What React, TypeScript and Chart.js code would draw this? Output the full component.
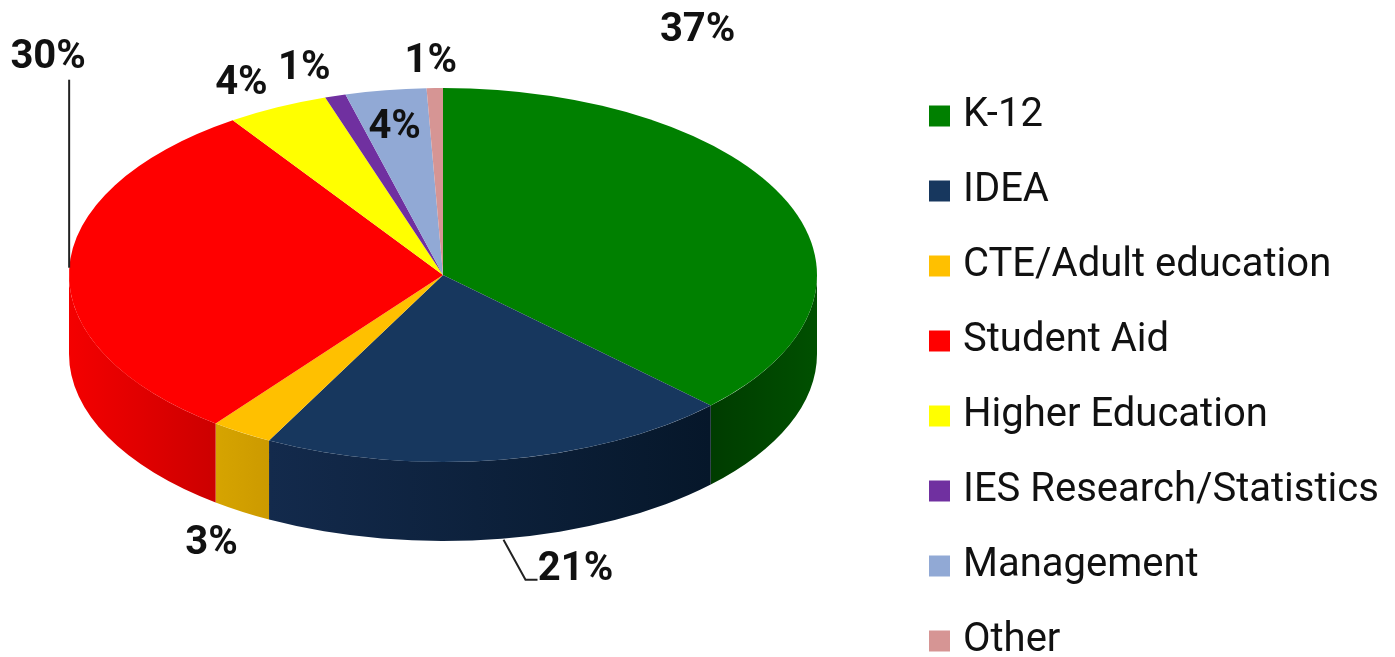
import React, { useEffect, useRef } from "react";
import { Chart, registerables } from "chart.js";

Chart.register(...registerables);

const categories = ["K-12", "IDEA", "CTE/Adult education", "Student Aid", "Higher Education", "IES Research/Statistics", "Management", "Other"];
// slice shares
const sliceShares = [37.3, 20.4, 2.7, 30.1, 4.4, 0.9, 3.5, 0.7];
// percentages as printed on the chart
const printedLabels = ["37%", "21%", "3%", "30%", "4%", "1%", "4%", "1%"];
const topColors = ["#008000", "#17375e", "#ffc000", "#ff0000", "#ffff00", "#7030a0", "#91a9d5", "#d69594"];
const wallLeft = ["#003c00", "#132a4c", "#d6a400", "#f40000", "#cccc00", "#582680", "#7288aa", "#aa7776"];
const wallRight = ["#005000", "#06172a", "#cc9a00", "#cc0000", "#cccc00", "#582680", "#7288aa", "#aa7776"];
// label placement relative to the rim midpoint of each slice
const labelDx = [-90, 74, -30, -21, -36, -31, 9, -4];
const labelDy = [-171, 110, 111, -212, -23, -27, 38, -26];
// leader lines, as offsets from the rim midpoint of the slice
const leaders: Record<number, number[][]> = {
  1: [[2, 80], [24, 120], [36, 120]],
  3: [[0, -190], [0, -2]],
};

const CX = 443, CY = 275, RX = 374, RY = 187, DEPTH = 79;
const LEGEND_LEFT = 901, LEGEND_TOP = 61;

const pie3d = {
  id: "pie3d",
  afterLayout(chart: any) {
    chart.legend.left = LEGEND_LEFT;
    chart.legend.top = LEGEND_TOP;
    chart.legend.bottom = LEGEND_TOP + chart.height;
  },
  beforeDatasetsDraw(chart: any) {
    const ctx = chart.ctx;
    const arcs = chart.getDatasetMeta(0).data;
    arcs.forEach((arc: any, i: number) => {
      const a = Math.max(arc.startAngle, 0);
      const b = Math.min(arc.endAngle, Math.PI);
      if (b <= a) return;
      const x1 = CX + RX * Math.cos(a), x2 = CX + RX * Math.cos(b);
      const g = ctx.createLinearGradient(Math.min(x1, x2), 0, Math.max(x1, x2), 0);
      g.addColorStop(0, wallLeft[i]);
      g.addColorStop(1, wallRight[i]);
      ctx.save();
      ctx.beginPath();
      ctx.ellipse(CX, CY, RX, RY, 0, a, b);
      ctx.ellipse(CX, CY + DEPTH, RX, RY, 0, b, a, true);
      ctx.closePath();
      ctx.fillStyle = g;
      ctx.fill();
      ctx.restore();
    });
  },
  beforeDatasetDraw(chart: any) {
    const ctx = chart.ctx;
    const arc = chart.getDatasetMeta(0).data[0];
    const r = arc.outerRadius;
    ctx.save();
    ctx.translate(CX, CY);
    ctx.scale(RX / r, RY / r);
    ctx.translate(-arc.x, -arc.y);
  },
  afterDatasetDraw(chart: any) {
    chart.ctx.restore();
  },
  afterDatasetsDraw(chart: any) {
    const ctx = chart.ctx;
    const arcs = chart.getDatasetMeta(0).data;
    arcs.forEach((arc: any, i: number) => {
      const mid = (arc.startAngle + arc.endAngle) / 2;
      const ax = CX + RX * Math.cos(mid);
      const ay = CY + RY * Math.sin(mid);
      ctx.save();
      const pts = leaders[i];
      if (pts) {
        ctx.strokeStyle = "#222";
        ctx.lineWidth = 2;
        ctx.beginPath();
        pts.forEach((p, k) => (k ? ctx.lineTo(ax + p[0], ay + p[1]) : ctx.moveTo(ax + p[0], ay + p[1])));
        ctx.stroke();
      }
      ctx.font = "bold 40px Roboto";
      ctx.fillStyle = "#111";
      ctx.textAlign = "center";
      ctx.textBaseline = "middle";
      ctx.fillText(printedLabels[i], ax + labelDx[i], ay + labelDy[i]);
      ctx.restore();
    });
  },
};

export default function App() {
  const ref = useRef<HTMLCanvasElement>(null);
  useEffect(() => {
    document.body.style.margin = "0";
    const base = (Chart as any).overrides.pie.plugins.legend.labels.generateLabels;
    const chart = new Chart(ref.current!, {
      type: "pie",
      data: {
        labels: categories,
        datasets: [{ data: sliceShares, backgroundColor: topColors, borderWidth: 0 }],
      },
      options: {
        responsive: false,
        animation: false,
        layout: { padding: 0 },
        plugins: {
          tooltip: { enabled: false },
          legend: {
            position: "right",
            align: "start",
            labels: {
              boxWidth: 7,
              boxHeight: 7,
              padding: 35,
              color: "#111",
              font: { family: "Roboto", size: 40 },
              generateLabels: (c: any) =>
                base(c).map((item: any) => ({ ...item, strokeStyle: item.fillStyle, lineWidth: 14, lineJoin: "miter" })),
            },
          },
        },
      },
      plugins: [pie3d],
    } as any);
    return () => chart.destroy();
  }, []);
  return <canvas ref={ref} width={1395} height={657} style={{ display: "block" }} />;
}
